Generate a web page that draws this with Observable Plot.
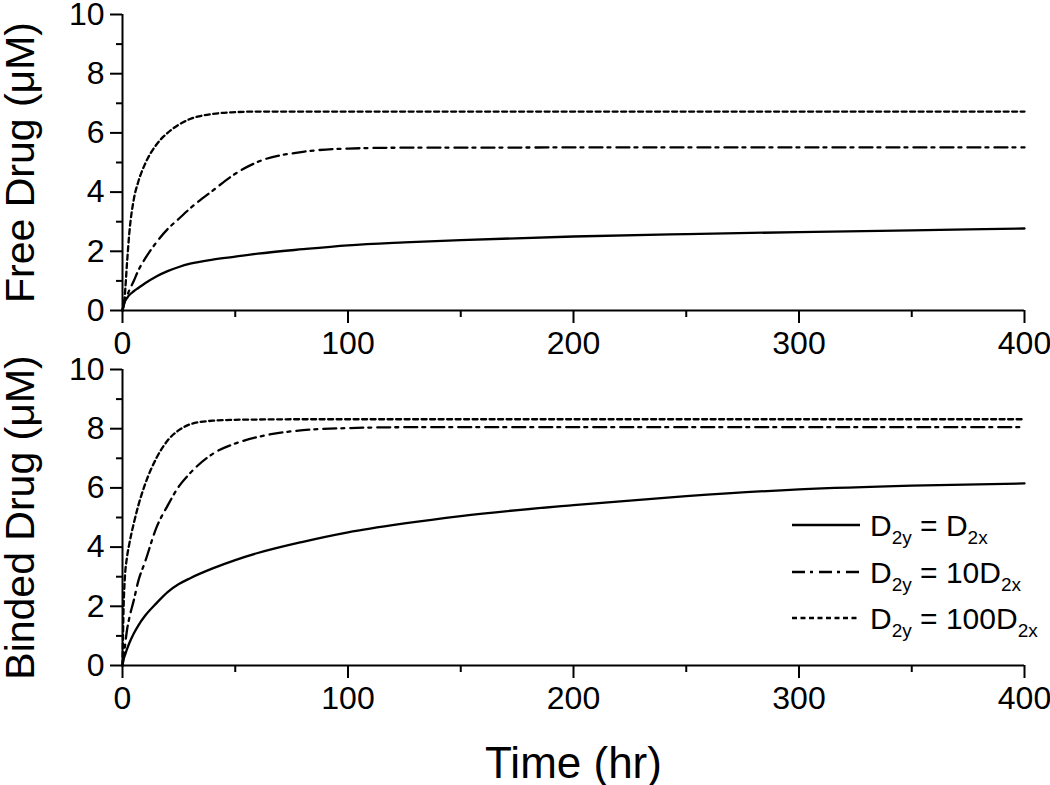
<!DOCTYPE html>
<html>
<head>
<meta charset="utf-8">
<script src="https://cdn.jsdelivr.net/npm/d3@7"></script>
<script src="https://cdn.jsdelivr.net/npm/@observablehq/plot@0.6"></script>
<style>
  html, body { margin: 0; padding: 0; background: #fff; }
  #wrap { position: relative; width: 1050px; height: 785px; background: #fff; font-family: "Liberation Sans", Arial, sans-serif; color: #000; }
  #wrap > .panel { position: absolute; left: 0; }
  .leg-line { position: absolute; left: 792px; }
  .leg-text { position: absolute; left: 870px; font-size: 30px; line-height: 30px; white-space: nowrap; }
  .leg-text .sub { font-size: 19px; position: relative; top: 8px; }
</style>
</head>
<body>
<div id="wrap"></div>
<script>
// ---- data ----
const times = [0, 0.5, 1, 2, 3, 5, 7, 10, 15, 20, 25, 30, 40, 50, 60, 80, 100, 125, 150, 200, 250, 300, 350, 400];

// Free drug (top panel)
const freeEq   = [0, 0.2, 0.3, 0.42, 0.52, 0.65, 0.76, 0.92, 1.15, 1.33, 1.47, 1.58, 1.72, 1.82, 1.92, 2.07, 2.2, 2.3, 2.38, 2.5, 2.58, 2.65, 2.71, 2.77];
const free10   = [0, 0.15, 0.3, 0.5, 0.68, 1.0, 1.35, 1.75, 2.3, 2.75, 3.1, 3.45, 4.05, 4.62, 5.02, 5.36, 5.47, 5.5, 5.5, 5.51, 5.51, 5.51, 5.51, 5.51];
const free100  = [0, 0.2, 0.5, 1.6, 2.6, 3.75, 4.35, 4.95, 5.6, 6.0, 6.28, 6.47, 6.64, 6.7, 6.72, 6.72, 6.72, 6.72, 6.72, 6.72, 6.72, 6.72, 6.72, 6.72];

// Binded drug (bottom panel)
const bindEq   = [0, 0.22, 0.33, 0.55, 0.75, 1.08, 1.35, 1.68, 2.1, 2.48, 2.75, 2.95, 3.28, 3.56, 3.8, 4.18, 4.5, 4.8, 5.05, 5.42, 5.72, 5.95, 6.08, 6.15];
const bind10   = [0, 0.3, 0.6, 1.2, 1.6, 2.2, 2.85, 3.5, 4.65, 5.4, 6.05, 6.5, 7.15, 7.5, 7.72, 7.95, 8.02, 8.05, 8.05, 8.05, 8.05, 8.05, 8.05, 8.05];
const bind100  = [0, 2.0, 2.9, 3.66, 4.1, 4.8, 5.4, 6.12, 7.0, 7.6, 7.95, 8.15, 8.27, 8.3, 8.31, 8.32, 8.32, 8.32, 8.32, 8.32, 8.32, 8.32, 8.32, 8.32];

const seriesNames = ["D2y = D2x", "D2y = 10D2x", "D2y = 100D2x"];
const legendHTML = [
  'D<span class="sub">2y</span> = D<span class="sub">2x</span>',
  'D<span class="sub">2y</span> = 10D<span class="sub">2x</span>',
  'D<span class="sub">2y</span> = 100D<span class="sub">2x</span>'
];
const dashes = [null, "13,5,3,6", "5,3.5"];

const xMajor = [0, 100, 200, 300, 400];
const xMinor = [50, 150, 250, 350];
const yMajor = [0, 2, 4, 6, 8, 10];
const yMinor = [1, 3, 5, 7, 9];

const xTitle = "Time (hr)";
const topTitle = "Free Drug (μM)";
const botTitle = "Binded Drug (μM)";

// ---- build ----
function toRows(vals) { return times.map((t, i) => ({t, v: vals[i]})); }

function panel({height, marginTop, marginBottom, series, ytitle, xtitle}) {
  const marks = [
    Plot.axisY({ticks: yMajor, tickSize: 12, tickPadding: 6, fontSize: 32, strokeWidth: 2, label: null, tickFormat: d => d}),
    Plot.axisY({ticks: yMinor, tickSize: 6, strokeWidth: 2, label: null, tickFormat: () => ""}),
    Plot.axisX({ticks: xMajor, tickSize: 13, tickPadding: 8, fontSize: 32, strokeWidth: 2, label: null, tickFormat: d => d}),
    Plot.axisX({ticks: xMinor, tickSize: 7, strokeWidth: 2, label: null, tickFormat: () => ""}),
    Plot.ruleX([0], {stroke: "black", strokeWidth: 2}),
    Plot.ruleY([0], {stroke: "black", strokeWidth: 2}),
    ...series.map((vals, i) => Plot.line(toRows(vals), {
      x: "t", y: "v", stroke: "black", strokeWidth: 2.3,
      strokeDasharray: dashes[i] || undefined, curve: "monotone-x"
    })),
    Plot.text([ytitle], {text: d => d, frameAnchor: "left", textAnchor: "middle", lineAnchor: "middle", rotate: -90, dx: -102, fontSize: 41})
  ];
  if (xtitle) marks.push(Plot.text([xtitle], {text: d => d, frameAnchor: "bottom", textAnchor: "middle", lineAnchor: "middle", dy: 98, fontSize: 44}));
  return Plot.plot({
    width: 1050, height, marginLeft: 122, marginRight: 26, marginTop, marginBottom,
    x: {domain: [0, 400]}, y: {domain: [0, 10]},
    style: {fontFamily: "'Liberation Sans', Arial, sans-serif", background: "transparent", color: "black", overflow: "visible"},
    marks
  });
}

const wrap = document.getElementById("wrap");
const top1 = panel({height: 355, marginTop: 14, marginBottom: 45, series: [freeEq, free10, free100], ytitle: topTitle});
top1.classList.add("panel"); top1.style.top = "0px";
wrap.appendChild(top1);

const bot = panel({height: 430, marginTop: 14, marginBottom: 120, series: [bindEq, bind10, bind100], ytitle: botTitle, xtitle: xTitle});
bot.classList.add("panel"); bot.style.top = "355px";
wrap.appendChild(bot);

// legend (HTML overlay, needs subscripts)
const legendY = [525, 572, 618];
seriesNames.forEach((name, i) => {
  const y = legendY[i];
  const svg = d3.create("svg").attr("class", "leg-line").attr("width", 68).attr("height", 6)
    .style("top", (y - 3) + "px");
  svg.append("line").attr("x1", 0).attr("x2", 68).attr("y1", 3).attr("y2", 3)
    .attr("stroke", "black").attr("stroke-width", 2.3)
    .attr("stroke-dasharray", dashes[i] || null);
  wrap.appendChild(svg.node());
  const t = document.createElement("div");
  t.className = "leg-text";
  t.style.top = (y - 14) + "px";
  t.setAttribute("title", name);
  t.innerHTML = legendHTML[i];
  wrap.appendChild(t);
});
</script>
</body>
</html>
